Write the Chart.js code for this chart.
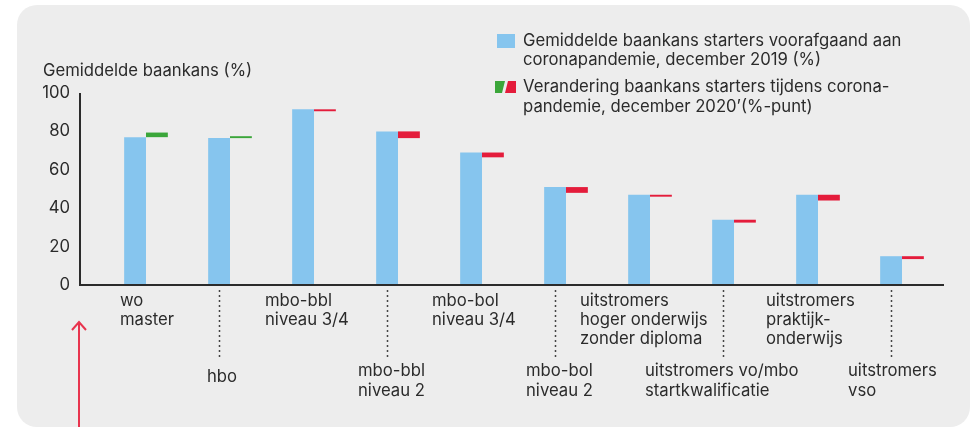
<!DOCTYPE html>
<html>
<head>
<meta charset="utf-8">
<script src="https://cdn.jsdelivr.net/npm/chart.js@4/dist/chart.umd.min.js"></script>
<style>
  html, body { margin: 0; padding: 0; background: #fff; }
  canvas { display: block; }
</style>
</head>
<body>
<canvas id="baankansChart" width="973" height="427"></canvas>
<script>
// categorieen (meerdere regels per label)
const categories = [
    ['wo', 'master'],
    ['hbo'],
    ['mbo-bbl', 'niveau 3/4'],
    ['mbo-bbl', 'niveau 2'],
    ['mbo-bol', 'niveau 3/4'],
    ['mbo-bol', 'niveau 2'],
    ['uitstromers', 'hoger onderwijs', 'zonder diploma'],
    ['uitstromers vo/mbo', 'startkwalificatie'],
    ['uitstromers', 'praktijk-', 'onderwijs'],
    ['uitstromers', 'vso']
];
// baankans december 2019 (%)
const baankans2019 = [77, 76.5, 91.5, 80, 69, 51, 47, 34, 47, 15];
// verandering december 2020 (%-punt)
const verandering2020 = [2.4, 1, -1, -3.5, -2.5, -3, -1, -1.5, -3, -1.5];
const yTicks = [0, 20, 40, 60, 80, 100];

const legendLabels = [
    ['Gemiddelde baankans starters voorafgaand aan', 'coronapandemie, december 2019 (%)'],
    ['Verandering baankans starters tijdens corona-', 'pandemie, december 2020’(%-punt)']
];
const yTitle = 'Gemiddelde baankans (%)';

const BLUE = '#86c5ee';
const GREEN = '#3ba63a';
const RED = '#e41c3b';
const TEXT = '#2b2b2b';

// pick a font size so the text width matches the original
const FONT_FAMILY = 'Inter, "Noto Sans", sans-serif';
const probe = document.createElement('canvas').getContext('2d');
probe.font = '100px ' + FONT_FAMILY;
const FS = Math.round(100 * 379 / probe.measureText(legendLabels[0][0]).width * 10) / 10;
const FONT = FS + 'px ' + FONT_FAMILY;

// x offsets of the label text relative to the category centre
const labelDx = [-26, -23, -49, -40, -50, -40, -70, -89, -52, -54];

const decor = {
    id: 'decor',
    beforeDraw(chart) {
        const ctx = chart.ctx;
        ctx.save();
        ctx.fillStyle = '#fff';
        ctx.fillRect(0, 0, chart.width, chart.height);
        ctx.fillStyle = '#ededed';
        ctx.beginPath();
        ctx.roundRect(17, 5, 953, 422, 20);
        ctx.fill();
        ctx.restore();
    },
    afterDraw(chart) {
        const ctx = chart.ctx;
        const x = chart.scales.x, y = chart.scales.y;
        const area = chart.chartArea;
        const axisX = 80;
        ctx.save();

        // axes
        ctx.strokeStyle = '#2b2b2b';
        ctx.lineWidth = 2;
        ctx.beginPath();
        ctx.moveTo(axisX, y.getPixelForValue(100));
        ctx.lineTo(axisX, y.getPixelForValue(0));
        ctx.lineTo(area.right, y.getPixelForValue(0));
        ctx.stroke();

        ctx.fillStyle = TEXT;
        ctx.font = FONT;
        ctx.textBaseline = 'middle';
        ctx.textAlign = 'left';
        ctx.fillText(yTitle, 43, 71);

        // category labels, staggered
        const blueBars = chart.getDatasetMeta(0).data;
        categories.forEach((lines, i) => {
            const cx = x.getPixelForValue(i);
            const left = cx + labelDx[i];
            let top, lh;
            if (i % 2 === 0) {
                top = 301; lh = 19;
            } else {
                top = lines.length === 1 ? 377 : 371; lh = 20;
                // dotted leader
                const bx = Math.round(blueBars[i].x) + 0.5;
                ctx.save();
                ctx.strokeStyle = '#444';
                ctx.lineWidth = 1.5;
                ctx.setLineDash([2, 3]);
                ctx.beginPath();
                ctx.moveTo(bx, y.getPixelForValue(0) + 5);
                ctx.lineTo(bx, 357);
                ctx.stroke();
                ctx.restore();
            }
            lines.forEach((t, k) => ctx.fillText(t, left, top + k * lh));
        });

        // legend
        ctx.fillStyle = BLUE;
        ctx.fillRect(497, 34, 18, 14);
        ctx.fillStyle = GREEN;
        ctx.beginPath();
        ctx.moveTo(495, 81); ctx.lineTo(505, 81); ctx.lineTo(502, 93); ctx.lineTo(495, 93);
        ctx.closePath(); ctx.fill();
        ctx.fillStyle = RED;
        ctx.beginPath();
        ctx.moveTo(508, 81); ctx.lineTo(516, 81); ctx.lineTo(516, 93); ctx.lineTo(505, 93);
        ctx.closePath(); ctx.fill();
        ctx.fillStyle = TEXT;
        ctx.fillText(legendLabels[0][0], 523, 41);
        ctx.fillText(legendLabels[0][1], 523, 60);
        ctx.fillText(legendLabels[1][0], 523, 87);
        ctx.fillText(legendLabels[1][1], 523, 107);

        // red arrow
        ctx.strokeStyle = '#e8344e';
        ctx.lineWidth = 2;
        ctx.beginPath();
        ctx.moveTo(79, 323); ctx.lineTo(79, 427);
        ctx.moveTo(72, 330); ctx.lineTo(79, 322); ctx.lineTo(86, 330);
        ctx.stroke();
        ctx.restore();
    }
};

const ctx = document.getElementById('baankansChart').getContext('2d');
new Chart(ctx, {
    type: 'bar',
    data: {
        labels: categories,
        datasets: [
            {
                label: legendLabels[0].join(' '),
                data: baankans2019,
                backgroundColor: BLUE,
                categoryPercentage: 0.52,
                barPercentage: 1
            },
            {
                label: legendLabels[1].join(' '),
                data: baankans2019.map((b, i) => [b, b + verandering2020[i]]),
                backgroundColor: verandering2020.map(v => v > 0 ? GREEN : RED),
                categoryPercentage: 0.52,
                barPercentage: 1
            }
        ]
    },
    options: {
        responsive: false,
        animation: false,
        events: [],
        layout: { padding: { left: 0, right: 29, top: 93, bottom: 142 } },
        scales: {
            x: {
                offset: true,
                grid: { display: false },
                border: { display: false },
                ticks: { display: false },
                afterFit: s => { s.height = 0; }
            },
            y: {
                min: 0,
                max: 100,
                afterBuildTicks: s => { s.ticks = yTicks.map(v => ({ value: v })); },
                grid: { display: false, drawTicks: false },
                border: { display: false },
                ticks: {
                    padding: 34,
                    color: TEXT,
                    font: { family: FONT_FAMILY, size: FS }
                },
                afterFit: s => { s.width = 104; }
            }
        },
        plugins: {
            legend: { display: false },
            tooltip: { enabled: false }
        }
    },
    plugins: [decor]
});
</script>
</body>
</html>
